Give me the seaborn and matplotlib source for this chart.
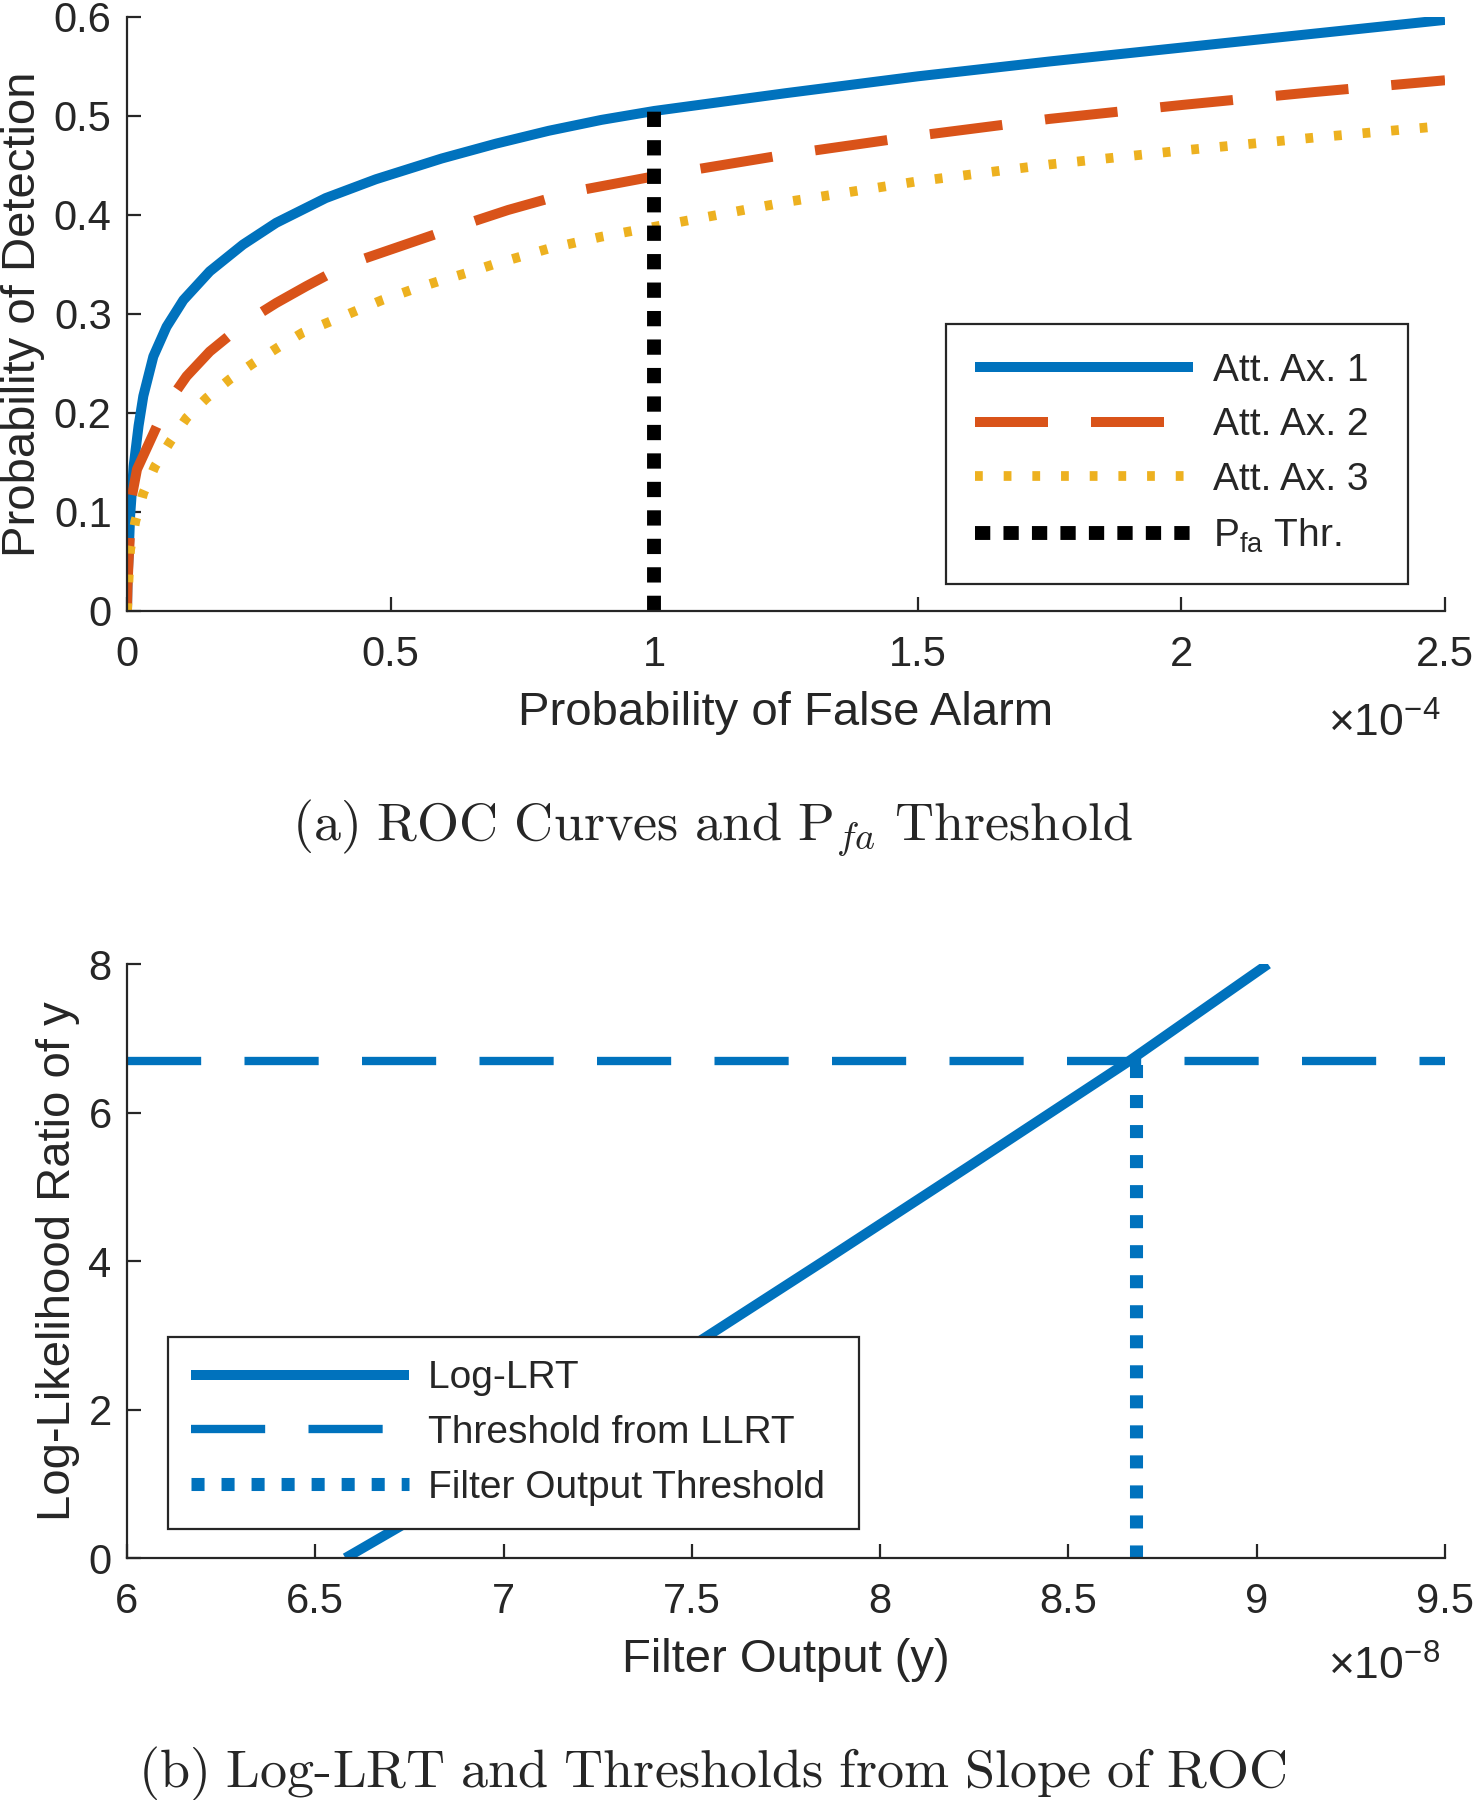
import seaborn as sns
import matplotlib.pyplot as plt
from matplotlib.lines import Line2D

# ROC curves (Pfa in units of 1e-4)
pfa_ax1 = [0, 0.001, 0.003, 0.006, 0.0126, 0.022, 0.031, 0.05, 0.075, 0.107, 0.157,
           0.22, 0.283, 0.377, 0.472, 0.597, 0.7, 0.8, 0.9, 1.0, 1.25, 1.5, 1.75,
           2.0, 2.25, 2.5]
pd_ax1 = [0, 0.03, 0.055, 0.096, 0.146, 0.187, 0.217, 0.257, 0.287, 0.314, 0.343,
          0.37, 0.392, 0.417, 0.436, 0.457, 0.472, 0.485, 0.496, 0.505, 0.523, 0.54,
          0.555, 0.569, 0.583, 0.597]
pfa_ax2 = [0, 0.001, 0.003, 0.0094, 0.019, 0.038, 0.075, 0.113, 0.157, 0.226, 0.283,
           0.34, 0.418, 0.544, 0.626, 0.723, 0.85, 1.0, 1.25, 1.5, 1.75, 2.0, 2.25, 2.5]
pd_ax2 = [0, 0.025, 0.05, 0.116, 0.143, 0.165, 0.208, 0.237, 0.262, 0.292, 0.311,
          0.328, 0.35, 0.373, 0.388, 0.405, 0.424, 0.439, 0.461, 0.48, 0.497, 0.511,
          0.524, 0.536]
pfa_ax3 = [0, 0.003, 0.006, 0.016, 0.031, 0.053, 0.082, 0.113, 0.151, 0.195, 0.239,
           0.286, 0.333, 0.384, 0.434, 0.484, 0.538, 0.591, 0.642, 0.695, 0.8, 0.9,
           1.0, 1.25, 1.5, 1.75, 2.0, 2.25, 2.5]
pd_ax3 = [0, 0.032, 0.062, 0.091, 0.119, 0.146, 0.171, 0.195, 0.215, 0.234, 0.25,
          0.266, 0.281, 0.292, 0.303, 0.314, 0.324, 0.333, 0.341, 0.35, 0.366, 0.378,
          0.388, 0.413, 0.434, 0.451, 0.465, 0.478, 0.49]
pfa_thr = 1.0
pd_at_thr = 0.51

# Log-LRT (filter output in units of 1e-8)
y_out = [6.58, 6.75, 7.0, 7.25, 7.52, 7.85, 8.24, 8.66, 9.03]
llr = [0, 0.50, 1.27, 2.06, 2.92, 4.0, 5.29, 6.69, 8.0]
llrt_thr = 6.7
y_thr = 8.68

roc_xticks = [0, 0.5, 1, 1.5, 2, 2.5]
roc_xlabels = ['0', '0.5', '1', '1.5', '2', '2.5']
roc_yticks = [0, 0.1, 0.2, 0.3, 0.4, 0.5, 0.6]
roc_ylabels = ['0', '0.1', '0.2', '0.3', '0.4', '0.5', '0.6']
llr_xticks = [6, 6.5, 7, 7.5, 8, 8.5, 9, 9.5]
llr_xlabels = ['6', '6.5', '7', '7.5', '8', '8.5', '9', '9.5']
llr_yticks = [0, 2, 4, 6, 8]

BLUE = '#0072BD'
ORANGE = '#D95319'
YELLOW = '#EDB120'
GRAY = '#262626'

sns.set_style('ticks')
plt.rcParams['font.family'] = ['Liberation Sans', 'DejaVu Sans']
plt.rcParams['mathtext.fontset'] = 'custom'
plt.rcParams['mathtext.rm'] = 'Liberation Sans'
plt.rcParams['mathtext.it'] = 'Liberation Sans:italic'
plt.rcParams['mathtext.bf'] = 'Liberation Sans:bold'
plt.rcParams['lines.solid_capstyle'] = 'butt'
plt.rcParams['lines.dash_capstyle'] = 'butt'

fig = plt.figure(figsize=(14.73, 18), dpi=100)
ax1 = fig.add_axes([0.0862, 0.6606, 0.8948, 0.33])
ax2 = fig.add_axes([0.0862, 0.1344, 0.8948, 0.33])

st1 = dict(color=BLUE, lw=7.2, ls='-')
st2 = dict(color=ORANGE, lw=7.2, ls=(0, (7.3, 4.3)))
st3 = dict(color=YELLOW, lw=7.0, ls=(0, (0.8, 2.15)))
st4 = dict(color='black', lw=10, ls=(0, (1.1, 0.95)))

sns.lineplot(x=pfa_ax1, y=pd_ax1, ax=ax1, sort=False, estimator=None, **st1)
sns.lineplot(x=pfa_ax2, y=pd_ax2, ax=ax1, sort=False, estimator=None, **st2)
sns.lineplot(x=pfa_ax3, y=pd_ax3, ax=ax1, sort=False, estimator=None, **st3)
ax1.plot([pfa_thr, pfa_thr], [0, pd_at_thr], **st4)

ax1.set_xlim(0, 2.5)
ax1.set_ylim(0, 0.6)
ax1.set_xticks(roc_xticks)
ax1.set_xticklabels(roc_xlabels)
ax1.set_yticks(roc_yticks)
ax1.set_yticklabels(roc_ylabels)
ax1.set_xlabel('Probability of False Alarm', fontsize=34, color=GRAY, labelpad=12)
ax1.set_ylabel('Probability of Detection', fontsize=34, color=GRAY, labelpad=6)

leg_kw = dict(borderaxespad=0, fontsize=28, handlelength=5.6, handletextpad=0.5,
              labelspacing=0.48, fancybox=False, framealpha=1, edgecolor=GRAY)

h1 = [Line2D([], [], **st1), Line2D([], [], **st2), Line2D([], [], **st3), Line2D([], [], **st4)]
leg1 = ax1.legend(h1, ['Att. Ax. 1 ', 'Att. Ax. 2 ', 'Att. Ax. 3 ', r'P$_{\mathrm{fa}}$ Thr. '],
                  loc='lower right', bbox_to_anchor=(0.972, 0.045), borderpad=0.75, **leg_kw)
leg1.get_frame().set_linewidth(1.6)

# bottom panel
sb1 = dict(color=BLUE, lw=7.2, ls='-')
sb2 = dict(color=BLUE, lw=6.0, ls=(0, (8.9, 5.2)))
sb3 = dict(color=BLUE, lw=9.4, ls=(0, (1.0, 1.3)))

sns.lineplot(x=y_out, y=llr, ax=ax2, sort=False, estimator=None, **sb1)
ax2.axhline(llrt_thr, **sb2)
ax2.plot([y_thr, y_thr], [0, llrt_thr], **sb3)

ax2.set_xlim(6, 9.5)
ax2.set_ylim(0, 8)
ax2.set_xticks(llr_xticks)
ax2.set_xticklabels(llr_xlabels)
ax2.set_yticks(llr_yticks)
ax2.set_xlabel('Filter Output (y)', fontsize=34, color=GRAY, labelpad=12)
ax2.set_ylabel('Log-Likelihood Ratio of y', fontsize=34, color=GRAY, labelpad=6)

h2 = [Line2D([], [], **sb1), Line2D([], [], **sb2), Line2D([], [], **sb3)]
leg2 = ax2.legend(h2, ['Log-LRT ', 'Threshold from LLRT ', 'Filter Output Threshold '],
                  loc='lower left', bbox_to_anchor=(0.031, 0.049), borderpad=0.6, **leg_kw)
leg2.get_frame().set_linewidth(1.6)

for ax in (ax1, ax2):
    sns.despine(ax=ax)
    ax.tick_params(direction='in', length=10, width=1.6, labelsize=30, colors=GRAY)
    ax.tick_params(axis='x', pad=17)
    ax.tick_params(axis='y', pad=11)
    for s in ('left', 'bottom'):
        ax.spines[s].set_linewidth(1.6)
        ax.spines[s].set_color(GRAY)

fig.text(0.978, 0.5906, r'$\times10^{-4}$', fontsize=32, color=GRAY, ha='right', va='baseline')
fig.text(0.978, 0.0667, r'$\times10^{-8}$', fontsize=32, color=GRAY, ha='right', va='baseline')

fig.text(0.4835, 0.5406, r'$\mathrm{(a)\ ROC\ Curves\ and\ P}_{fa}\mathrm{\ Threshold}$',
         fontsize=39, ha='center', va='center', math_fontfamily='cm')
fig.text(0.4835, 0.0144, r'$\mathrm{(b)\ Log\text{-}LRT\ and\ Thresholds\ from\ Slope\ of\ ROC}$',
         fontsize=39, ha='center', va='center', math_fontfamily='cm')

fig.savefig('out.png', dpi=100)
